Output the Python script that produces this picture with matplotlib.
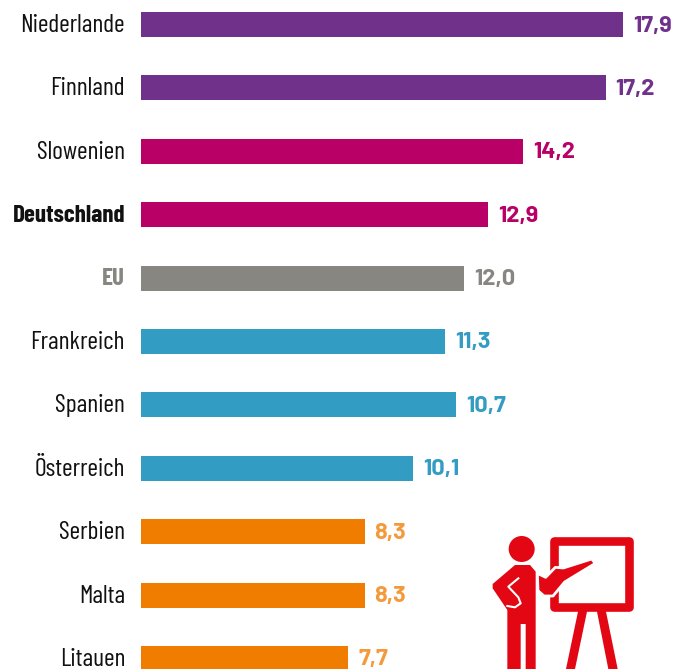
#!/usr/bin/env python3

import matplotlib
matplotlib.use("Agg")
import matplotlib.pyplot as plt
from matplotlib import font_manager
from matplotlib.patches import Circle, Polygon

countries = ["Niederlande", "Finnland", "Slowenien", "Deutschland", "EU", "Frankreich",
             "Spanien", "Österreich", "Serbien", "Malta", "Litauen"]
# bar lengths as drawn in the picture (the Spanien bar is longer than its printed value)
bar_lengths = [17.9, 17.25, 14.2, 12.9, 12.0, 11.3, 11.7, 10.1, 8.3, 8.3, 7.7]
value_labels = ["17,9", "17,2", "14,2", "12,9", "12,0", "11,3", "10,7", "10,1", "8,3", "8,3", "7,7"]
bar_colors = ["#6f318a", "#6f318a", "#b80066", "#b80066", "#878680", "#339cc3",
              "#339cc3", "#339cc3", "#f07d00", "#f07d00", "#f07d00"]
label_colors = ["#6f318a", "#6f318a", "#b80066", "#b80066", "#878680", "#339cc3",
                "#339cc3", "#339cc3", "#f39a3c", "#f39a3c", "#f39a3c"]

ICON_RED = "#e30613"
W, H = 691, 669
PX_PER_UNIT = 26.93
ROW = 63.4

installed = {f.name for f in font_manager.fontManager.ttflist}
if {"Barlow Condensed", "Barlow"} <= installed:
    NAME_FAMILY, VALUE_FAMILY, NAME_SIZE, BOLD_SIZE, VALUE_SIZE = "Barlow Condensed", "Barlow", 18.5, 18, 17
else:
    NAME_FAMILY, VALUE_FAMILY, NAME_SIZE, BOLD_SIZE, VALUE_SIZE = "Liberation Sans", "Liberation Sans", 13, 13, 14

fig = plt.figure(figsize=(W / 100, H / 100), dpi=100)
ax = fig.add_axes([0, 0, 1, 1])
ax.set_xlim(-141 / PX_PER_UNIT, (W - 141) / PX_PER_UNIT)
ax.set_ylim((H - 24.5) / ROW, -24.5 / ROW)
ax.axis("off")

ax.barh(range(len(bar_lengths)), bar_lengths, height=25 / ROW, color=bar_colors)
for i, name in enumerate(countries):
    bold = name in ("Deutschland", "EU")
    ax.text(-16 / PX_PER_UNIT, i - 1.5 / ROW, name, ha="right", va="center_baseline",
            fontsize=BOLD_SIZE if bold else NAME_SIZE, family=[NAME_FAMILY, "DejaVu Sans"],
            color="#878680" if name == "EU" else "#111111",
            fontweight="bold" if bold else "normal")
    ax.text(bar_lengths[i] + 10 / PX_PER_UNIT, i - 1 / ROW, value_labels[i], ha="left",
            va="center_baseline", fontsize=VALUE_SIZE, family=[VALUE_FAMILY, "DejaVu Sans"],
            color=label_colors[i], fontweight="bold")

# presenter icon, drawn in pixel space
icon = fig.add_axes([0, 0, 1, 1])
icon.set_xlim(0, W)
icon.set_ylim(H, 0)
icon.axis("off")
icon.patch.set_alpha(0)


def zp(points):
    # coordinates measured on the 3x crop starting at (480, 520)
    return [(480 + x / 3, 520 + y / 3) for x, y in points]


for leg in ([(295, 270), (322, 270), (285, 447), (258, 447)],
            [(350, 270), (377, 270), (413, 447), (385, 447)]):
    icon.add_patch(Polygon(zp(leg), color=ICON_RED, lw=0))
icon.add_patch(Polygon(zp([(221, 62), (448, 62), (448, 262), (221, 262)]), closed=True,
                       facecolor="white", edgecolor=ICON_RED, lw=6.2, joinstyle="round"))
icon.add_patch(Circle(zp([(125, 87)])[0], 13, color=ICON_RED, lw=0))
icon.add_patch(Polygon(zp([(105, 135), (150, 135), (167, 155), (167, 447), (137, 447), (137, 312),
                           (122, 312), (122, 447), (82, 447), (82, 270), (38, 205), (38, 192)]),
                       color=ICON_RED, lw=0))
icon.plot(*zip(*zp([(115, 175), (85, 200), (115, 232), (122, 250), (105, 262), (82, 258)])),
          color="white", lw=1.5)
icon.add_patch(Polygon(zp([(172, 160), (197, 172), (226, 142), (250, 144), (335, 117), (346, 130),
                           (254, 186), (219, 228), (192, 228), (174, 212)]),
                       facecolor=ICON_RED, edgecolor="white", lw=2.0, joinstyle="round"))

fig.savefig("out.png", dpi=100)
